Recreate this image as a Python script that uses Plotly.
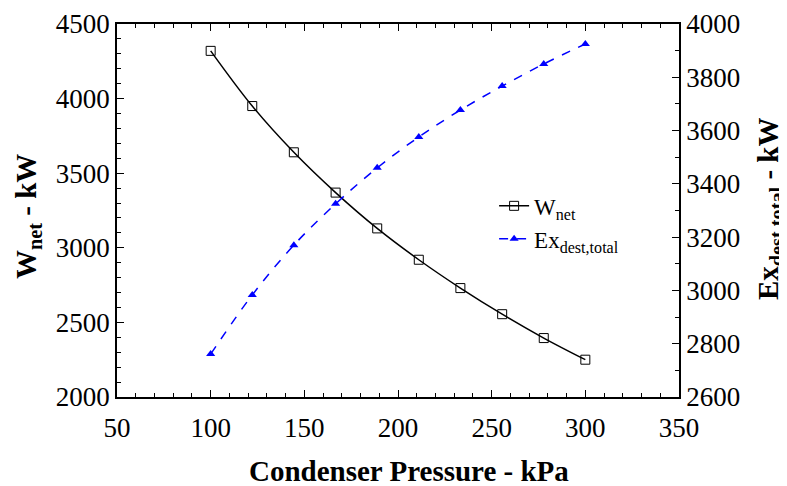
import plotly.graph_objects as go

pressure = [100, 122.2, 144.4, 166.7, 188.9, 211.1, 233.3, 255.6, 277.8, 300]
w_net = [4320, 3950, 3640, 3370, 3130, 2920, 2730, 2555, 2395, 2250]
ex_dest = [2761, 2983, 3170, 3325, 3460, 3576, 3677, 3767, 3850, 3925]

x_title = "<b>Condenser Pressure - kPa</b>"
y_title = "<b>W<sub>net</sub> - kW</b>"
y2_title = "<b>Ex<sub>dest,total</sub> - kW</b>"

FONT = "Times New Roman, Liberation Serif, serif"

fig = go.Figure()
fig.add_trace(go.Scatter(
    x=pressure, y=w_net, name="W<sub>net</sub>", mode="lines+markers",
    line=dict(color="black", width=1.5, shape="spline"),
    marker=dict(symbol="square-open", size=9, color="black", line=dict(width=1)),
))
fig.add_trace(go.Scatter(
    x=pressure, y=ex_dest, name="Ex<sub>dest,total</sub>", mode="lines+markers", yaxis="y2",
    line=dict(color="#0000ff", width=1.5, dash="dash", shape="spline"),
    marker=dict(symbol="triangle-up", size=8, color="#0000ff"),
))

axis_common = dict(
    showgrid=False, zeroline=False, showline=True, linecolor="black", linewidth=1.5,
    ticks="inside", ticklen=7, tickwidth=1, tickcolor="black", automargin=False,
    tickfont=dict(family=FONT, size=27, color="black"),
)

title_font = dict(family=FONT, size=29, color="black")

fig.update_layout(
    width=779, height=478,
    margin=dict(l=109, r=108, t=16, b=89),
    plot_bgcolor="white", paper_bgcolor="white",
    font=dict(family=FONT, color="black"),
    xaxis=dict(
        **axis_common, range=[50, 350], dtick=50, mirror="ticks", ticklabelstandoff=6,
        minor=dict(dtick=10, ticks="inside", ticklen=4, tickcolor="black"),
    ),
    yaxis=dict(
        **axis_common, range=[2000, 4500], dtick=500,
        minor=dict(dtick=100, ticks="inside", ticklen=4, tickcolor="black"),
    ),
    yaxis2=dict(
        **axis_common, range=[2600, 4000], dtick=200, overlaying="y", side="right",
        minor=dict(dtick=100, ticks="inside", ticklen=4, tickcolor="black"),
    ),
    legend=dict(
        x=0.671, y=0.57, xanchor="left", yanchor="top",
        font=dict(family=FONT, size=23), bgcolor="rgba(0,0,0,0)",
        tracegroupgap=0, itemwidth=30,
    ),
    annotations=[
        dict(text=x_title, xref="paper", yref="paper", x=0.52, y=-0.198,
             xanchor="center", yanchor="middle", showarrow=False, font=title_font),
        dict(text=y_title, xref="paper", yref="paper", x=-0.158, y=0.483, textangle=-90,
             xanchor="center", yanchor="middle", showarrow=False, font=title_font),
        dict(text=y2_title, xref="paper", yref="paper", x=1.162, y=0.504, textangle=-90,
             xanchor="center", yanchor="middle", showarrow=False, font=title_font),
    ],
)

fig.write_html("out.html")
